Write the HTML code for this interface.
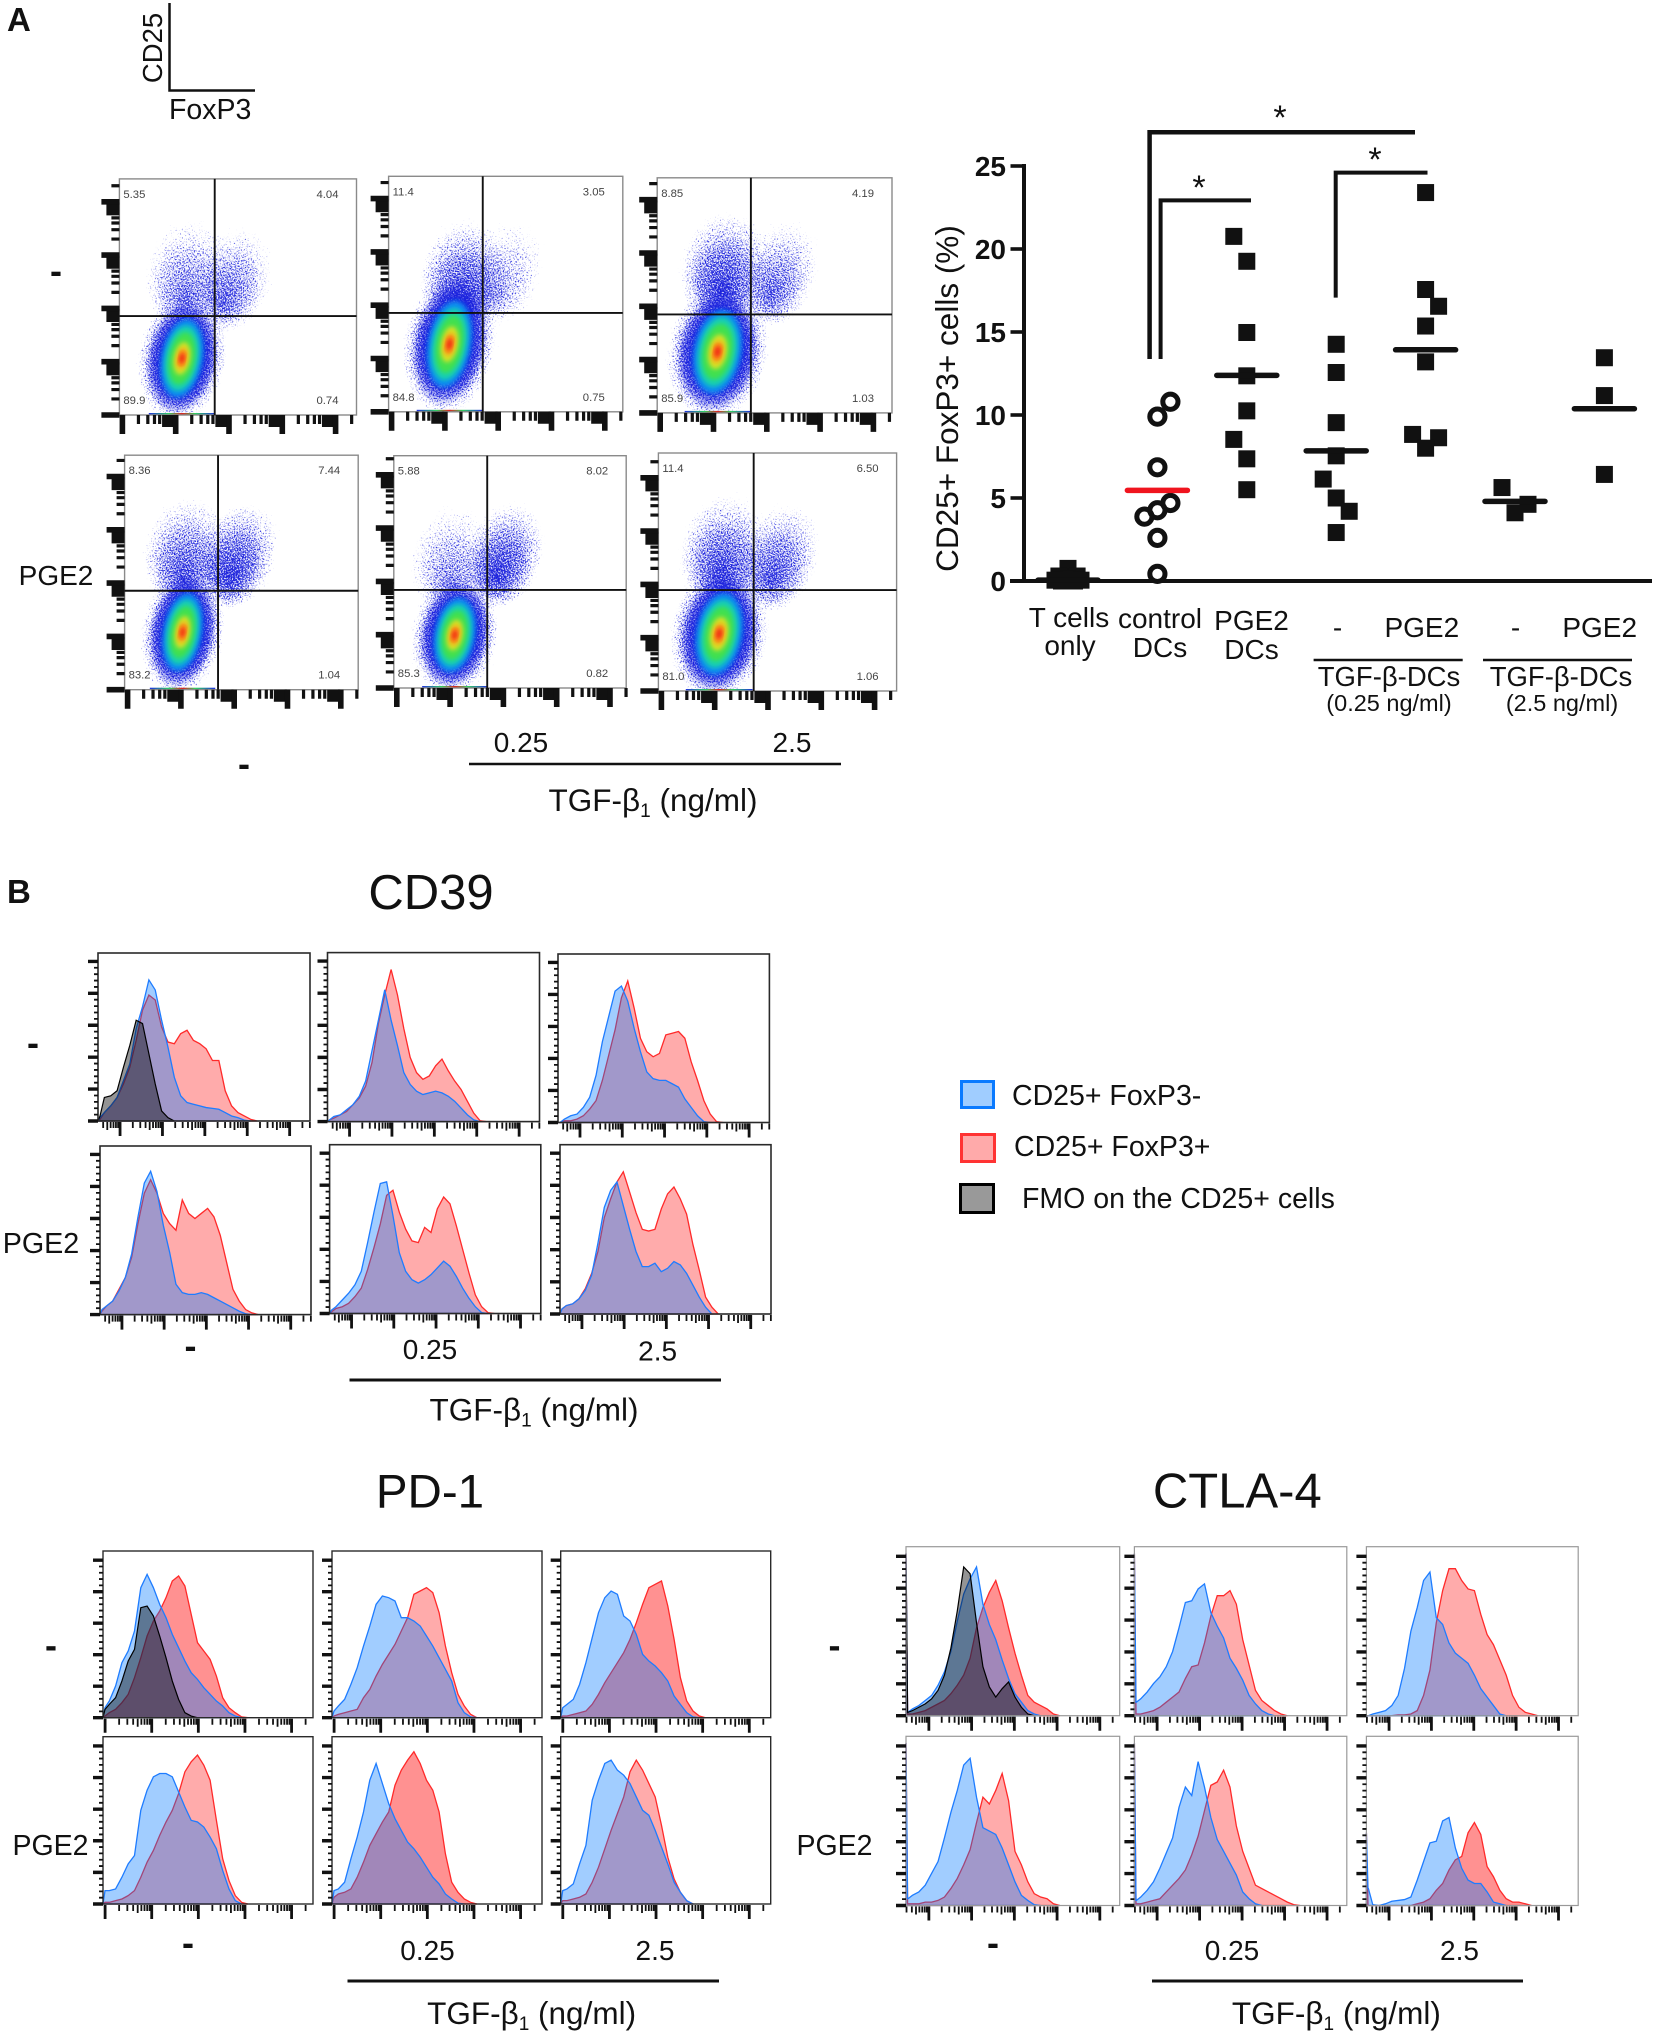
<!DOCTYPE html>
<html lang="en">
<head>
<meta charset="utf-8">
<title>TGF-beta DC flow cytometry figure</title>
<style>
html,body{margin:0;padding:0;background:#fff;}
svg{display:block;font-family:"Liberation Sans",sans-serif;fill:#111;}
.t28{font-size:28px;}
.m{text-anchor:middle;}
.dash{font-size:36px;font-weight:bold;text-anchor:middle;}
</style>
</head>
<body>
<svg id="figure" xmlns="http://www.w3.org/2000/svg" width="1654" height="2033" viewBox="0 0 1654 2033">
<defs>
  <radialGradient id="popFade" fx="0.5" fy="0.72">
    <stop offset="0" stop-color="#000" stop-opacity="0.7"/>
    <stop offset="0.5" stop-color="#000" stop-opacity="0.56"/>
    <stop offset="0.8" stop-color="#000" stop-opacity="0.4"/>
    <stop offset="1" stop-color="#000" stop-opacity="0.15"/>
  </radialGradient>
  <radialGradient id="haloFade">
    <stop offset="0" stop-color="#000" stop-opacity="0.9"/>
    <stop offset="0.6" stop-color="#000" stop-opacity="0.62"/>
    <stop offset="0.85" stop-color="#000" stop-opacity="0.38"/>
    <stop offset="1" stop-color="#000" stop-opacity="0.12"/>
  </radialGradient>
  <radialGradient id="coreFade">
    <stop offset="0" stop-color="#1822e0" stop-opacity="1"/>
    <stop offset="0.5" stop-color="#1822e0" stop-opacity="0.85"/>
    <stop offset="1" stop-color="#1822e0" stop-opacity="0"/>
  </radialGradient>
  <filter id="speckle" x="-5%" y="-5%" width="110%" height="110%" color-interpolation-filters="sRGB">
    <feTurbulence type="fractalNoise" baseFrequency="0.8" numOctaves="1" seed="7" result="noise"/>
    <feColorMatrix in="noise" type="matrix" values="0 0 0 0 0  0 0 0 0 0  0 0 0 0 0  1 0 0 0 0" result="noiseAlpha"/>
    <feComposite in="SourceAlpha" in2="noiseAlpha" operator="arithmetic" k1="0" k2="1" k3="1" k4="-1" result="sum"/>
    <feComponentTransfer in="sum" result="mask"><feFuncA type="linear" slope="6"/></feComponentTransfer>
    <feFlood flood-color="#1c22dc"/>
    <feComposite in2="mask" operator="in"/>
  </filter>
  <filter id="soft" x="-30%" y="-30%" width="160%" height="160%"><feGaussianBlur stdDeviation="2.4"/></filter>
  <linearGradient id="edgeRainbow">
    <stop offset="0" stop-color="#2030e0"/><stop offset="0.3" stop-color="#30d060"/>
    <stop offset="0.5" stop-color="#e02020"/><stop offset="0.7" stop-color="#30d060"/><stop offset="1" stop-color="#2030e0"/>
  </linearGradient>
</defs>
<rect x="0" y="0" width="1654" height="2033" fill="#fff"/>

<!-- Panel A annotations -->
<text x="7" y="31" font-size="33" font-weight="bold">A</text>
<text transform="translate(162,48) rotate(-90)" class="m" font-size="27.500">CD25</text>
<path d="M169.5 3V90.5H255" fill="none" stroke="#111" stroke-width="2.5"/>
<text x="169" y="119" font-size="28.500">FoxP3</text>
<text x="56" y="283" class="dash">-</text>
<text x="56" y="585" class="m t28">PGE2</text>
<text x="244" y="776" class="dash">-</text>
<text x="521" y="752" class="m t28">0.25</text>
<text x="792" y="752" class="m t28">2.5</text>
<line x1="469" y1="764" x2="841" y2="764" stroke="#111" stroke-width="2.5"/>
<text x="653" y="811" class="m" font-size="31.500">TGF-β<tspan font-size="19" dy="6">1</tspan><tspan dy="-6"> (ng/ml)</tspan></text>
<g id="flow-plots"></g>

<!-- Dot plot -->
<g id="dot-plot"></g>
<text transform="translate(958,398.5) rotate(-90)" class="m" font-size="31.500">CD25+ FoxP3+ cells (%)</text>
<path d="M1149.6 359V132.2H1415" fill="none" stroke="#111" stroke-width="4.5"/>
<path d="M1160.6 359V200.4H1251" fill="none" stroke="#111" stroke-width="4"/>
<path d="M1335.7 297.6V172.6H1427.5" fill="none" stroke="#111" stroke-width="4"/>
<text x="1280" y="129" class="m" font-size="34">*</text>
<text x="1199" y="199" class="m" font-size="34">*</text>
<text x="1375" y="171" class="m" font-size="34">*</text>
<text x="1069" y="627" class="m t28">T cells</text>
<text x="1070" y="655" class="m t28">only</text>
<text x="1160" y="628" class="m t28">control</text>
<text x="1160" y="657" class="m t28">DCs</text>
<text x="1251.5" y="630" class="m t28">PGE2</text>
<text x="1251.5" y="659" class="m t28">DCs</text>
<text x="1337.6" y="637" class="m t28">-</text>
<text x="1421.8" y="637" class="m t28">PGE2</text>
<text x="1515.6" y="637" class="m t28">-</text>
<text x="1599.7" y="637" class="m t28">PGE2</text>
<line x1="1313.6" y1="660" x2="1462.7" y2="660" stroke="#111" stroke-width="2.5"/>
<line x1="1483" y1="660" x2="1632" y2="660" stroke="#111" stroke-width="2.5"/>
<text x="1389" y="686" class="m" font-size="27.5">TGF-β-DCs</text>
<text x="1561" y="686" class="m" font-size="27.5">TGF-β-DCs</text>
<text x="1389" y="711" class="m" font-size="23.5">(0.25 ng/ml)</text>
<text x="1562" y="711" class="m" font-size="23.5">(2.5 ng/ml)</text>

<!-- Panel B annotations -->
<text x="7" y="903" font-size="33" font-weight="bold">B</text>
<text x="431" y="909" class="m" font-size="49">CD39</text>
<text x="33" y="1055" class="dash">-</text>
<text x="41" y="1253" class="m" font-size="28.7">PGE2</text>
<text x="190.500" y="1358" class="dash">-</text>
<text x="430" y="1359" class="m t28">0.25</text>
<text x="657.600" y="1360.500" class="m t28">2.5</text>
<line x1="349.500" y1="1380" x2="721" y2="1380" stroke="#111" stroke-width="3"/>
<text x="534" y="1420.500" class="m" font-size="31.500">TGF-β<tspan font-size="19" dy="6">1</tspan><tspan dy="-6"> (ng/ml)</tspan></text>

<text x="430" y="1507.500" class="m" font-size="47.500">PD-1</text>
<text x="51" y="1657.500" class="dash">-</text>
<text x="50.500" y="1855" class="m" font-size="28.5">PGE2</text>
<text x="188" y="1955" class="dash">-</text>
<text x="427.500" y="1960" class="m t28">0.25</text>
<text x="655" y="1960" class="m t28">2.5</text>
<line x1="347.500" y1="1981" x2="719" y2="1981" stroke="#111" stroke-width="3"/>
<text x="531.600" y="2024" class="m" font-size="31.500">TGF-β<tspan font-size="19" dy="6">1</tspan><tspan dy="-6"> (ng/ml)</tspan></text>

<text x="1237.300" y="1507.500" class="m" font-size="49">CTLA-4</text>
<text x="834.500" y="1657.500" class="dash">-</text>
<text x="834.500" y="1855" class="m" font-size="28.500">PGE2</text>
<text x="993" y="1955" class="dash">-</text>
<text x="1232" y="1960" class="m t28">0.25</text>
<text x="1459.500" y="1960" class="m t28">2.5</text>
<line x1="1152" y1="1981" x2="1523" y2="1981" stroke="#111" stroke-width="3"/>
<text x="1336.400" y="2024" class="m" font-size="31.500">TGF-β<tspan font-size="19" dy="6">1</tspan><tspan dy="-6"> (ng/ml)</tspan></text>

<g id="histograms"></g>

<!-- Legend -->
<g>
  <g>
    <rect x="961.500" y="1081.500" width="32" height="26" fill="#a0cdff" stroke="#0a7aff" stroke-width="3"/>
    <text x="1012" y="1105" font-size="28.500">CD25+ FoxP3-</text>
  </g>
  <g>
    <rect x="961.500" y="1134.500" width="33" height="27" fill="#ffaaaa" stroke="#ff3333" stroke-width="3"/>
    <text x="1014" y="1156" font-size="28.500">CD25+ FoxP3+</text>
  </g>
  <g>
    <rect x="960.500" y="1184.500" width="33" height="28" fill="#999" stroke="#000" stroke-width="3"/>
    <text x="1022" y="1208" font-size="28.500">FMO on the CD25+ cells</text>
  </g>
</g>

<script>
/* ---------- Dot plot data (CD25+ FoxP3+ cells, %) ---------- */
const dotCategories = ["T cells only", "control DCs", "PGE2 DCs", "TGF 0.25 -", "TGF 0.25 PGE2", "TGF 2.5 -", "TGF 2.5 PGE2"];
const dotYTicks = [0, 5, 10, 15, 20, 25];
const tCellsValues = [0.76, 0.3, 0.3, 0.1, 0.05, 0.05, 0, 0];
const tCellsSlots = [0, -0.7, 0.7, 0, -1, 1, -0.5, 0.5];
const controlValues = [10.8, 9.9, 6.85, 4.7, 4.26, 3.88, 2.6, 0.43];
const controlSlots = [1, 0, 0, 1, 0, -1, 0, 0];
const pge2Values = [20.76, 19.26, 14.97, 12.36, 10.25, 8.53, 7.36, 5.5];
const pge2Slots = [-1, 0, 0, 0, 0, -1, 0, 0];
const tgf025Values = [14.26, 12.56, 9.54, 7.54, 6.14, 5.0, 4.2, 2.92];
const tgf025Slots = [0, 0, 0, 0, -1, 0, 1, 0];
const tgf025Pge2Values = [23.4, 17.56, 16.55, 15.36, 13.2, 8.83, 8.63, 8.0];
const tgf025Pge2Slots = [0, 0, 1, 0, 0, -1, 1, 0];
const tgf25Values = [5.63, 4.62, 4.11];
const tgf25Slots = [-1, 1, 0];
const tgf25Pge2Values = [13.45, 11.17, 6.42];
const tgf25Pge2Slots = [0, 0, 0];
const dotMeans = [0.05, 5.46, 12.39, 7.84, 13.93, 4.8, 10.38];

/* ---------- Flow plot population estimates (% of each axis) ---------- */
const flowCoreX = [26.4, 26, 25.7, 24.8, 26.2, 25.5];
const flowCoreY = [24, 28.7, 26, 24.5, 22.8, 24];
const flowCoreSpreadX = [19, 20, 22, 18, 19, 21];
const flowCoreSpreadY = [28, 31, 30, 28, 27, 29];
const flowQ1X = [29.5, 32.6, 29, 27, 26, 28];
const flowQ1Y = [60, 58, 62, 59, 56, 59];
const flowQ1Density = [0.88, 1, 1, 0.95, 0.85, 0.98];
const flowQ2X = [48, 50, 52, 48.6, 48, 51];
const flowQ2Y = [58, 60, 60, 58, 58, 57];
const flowQ2Density = [0.9, 0.8, 0.9, 1, 1, 0.95];
const flowGateX = [40.2, 40.2, 39.9, 40, 40.2, 40];
const flowGateY = [41.9, 42, 41.9, 42.2, 42.2, 42.4];
const flowUpperLeft = ["5.35", "11.4", "8.85", "8.36", "5.88", "11.4"];
const flowUpperRight = ["4.04", "3.05", "4.19", "7.44", "8.02", "6.50"];
const flowLowerLeft = ["89.9", "84.8", "85.9", "83.2", "85.3", "81.0"];
const flowLowerRight = ["0.74", "0.75", "1.03", "1.04", "0.82", "1.06"];

/* ---------- Histogram values: % of panel height per fluorescence bin ---------- */
const cd39NoneNoneBlue = [2,5,9,14,24,34,55,68,84,78,60,44,26,15,11,10,9,8,7.5,7,5,3,2,0.5,0];
const cd39NoneNoneRed = [1,5,9,14,22,32,48,66,75,72,56,47,46,52,54,48,46,43,36,36,18,9,5,3,1,0];
const cd39NoneNoneBlack = [3,14,15,18,32,45,60,58,40,22,6,2,0];
const cd39None025Blue = [1,3,4,7,10,15,24,42,60,78,60,45,29,22,18,16,17,18,17,15,12,8,4,1,0];
const cd39None025Red = [1,2,4,6,10,14,21,35,58,75,90,75,55,38,29,25,27,33,37,30,24,19,12,5,0.5,0];
const cd39None25Blue = [0,2,4,5,9,15,28,48,63,78,81,72,56,42,30,26,25,25,23,21,14,9,4,0.5,0];
const cd39None25Red = [0,1,1,2,4,8,13,25,40,55,74,84,68,50,42,39,41,52,53,54,50,36,25,13,5,0.5,0];
const cd39Pge2NoneBlue = [3,5,8,14,22,36,58,78,85,73,53,37,18,13,12,12,13,12,10,8,6,4,2,0.5,0];
const cd39Pge2NoneRed = [2,5,8,15,22,34,54,72,80,72,60,54,50,68,60,57,60,63,58,47,31,15,8,3,1,0];
const cd39Pge2025Blue = [2,4,8,12,17,25,42,60,77,78,58,36,25,20,18,20,23,27,31,28,22,15,9,4,0.5,0];
const cd39Pge2025Red = [1,3,4,6,10,15,26,39,53,70,73,60,50,43,42,51,48,62,69,65,52,38,24,11,4,0.5,0];
const cd39Pge225Blue = [3,5,6,9,14,23,42,63,73,78,64,50,37,28,28,30,25,27,31,29,24,17,10,4,0];
const cd39Pge225Red = [3,5,6,9,15,24,37,57,68,78,84,72,60,50,49,50,62,71,75,68,59,41,26,10,4,0];

const pd1NoneNoneBlue = [6,10,19,33,40,52,78,86,78,68,60,50,42,34,27,23,18,14,10,7,3,1,0];
const pd1NoneNoneRed = [1,3,5,9,14,24,36,49,58,64,72,82,85,79,62,45,40,35,25,12,6,3,0.5,0];
const pd1NoneNoneBlack = [5,8,12,22,34,41,66,67,61,49,36,22,11,3,1,0];
const pd1None025Blue = [4,7,11,20,30,43,55,68,73,72,70,60,60,58,55,49,43,36,29,22,9,3,0.5,0];
const pd1None025Red = [1,2,3,4,5,12,17,25,32,38,44,52,60,74,76,78,75,63,43,27,14,7,2,0];
const pd1None25Blue = [6,8,11,20,33,48,63,72,76,74,61,58,50,38,34,31,27,22,13,8,3,0.5,0];
const pd1None25Red = [1,1,2,3,4,8,14,21,27,33,39,47,57,68,78,80,82,67,47,24,10,4,1,0];
const pd1Pge2NoneBlue = [8,8,9,16,24,29,56,68,76,78,78,76,67,58,50,49,46,40,33,20,9,2,0];
const pd1Pge2NoneRed = [1,1,2,3,5,8,16,25,32,41,49,56,66,79,85,89,83,74,50,27,14,5,1,0];
const pd1Pge2025Blue = [8,9,13,27,40,55,74,84,72,60,51,44,37,33,28,22,16,12,6,3,0.5,0];
const pd1Pge2025Red = [4,6,7,9,16,25,35,42,49,55,71,80,86,91,84,74,68,55,30,13,7,3,1,0];
const pd1Pge225Blue = [8,9,12,24,35,62,74,84,86,80,77,72,64,56,53,44,34,24,13,7,2,0];
const pd1Pge225Red = [2,2,3,4,6,13,22,33,44,54,64,79,86,80,72,64,47,28,15,7,2,0];

const ctlaNoneNoneBlue = [2,4,6,9,12,18,26,38,56,72,81,88,66,54,45,33,22,13,8,3,1,0];
const ctlaNoneNoneRed = [1,1,2,3,5,7,9,13,18,24,34,52,64,73,80,68,52,37,24,12,8,6,4,1,0];
const ctlaNoneNoneBlack = [2,3,5,7,10,15,24,40,62,88,84,55,29,17,11,16,20,11,5,1,0];
const ctlaNone025Blue = [8,10,14,19,23,29,38,52,67,68,75,78,61,53,46,34,28,21,12,7,3,1,0];
const ctlaNone025Red = [1,1,2,3,5,8,11,14,22,29,30,43,59,71,71,74,66,45,30,15,9,6,3,1,0];
const ctlaNone25Blue = [0,1,2,3,6,12,28,50,64,80,85,58,54,43,37,34,31,24,16,11,6,1,0];
const ctlaNone25Red = [0,0,0,0,0,0.5,0.5,1,3,12,27,55,74,87,87,80,75,74,60,48,42,33,24,12,5,2,1,0];
const ctlaPge2NoneBlue = [4,6,8,12,19,26,40,55,68,83,87,64,46,44,42,34,24,14,6,3,0.5,0];
const ctlaPge2NoneRed = [1,1,1,2,2,3,5,10,16,24,33,49,64,60,68,78,62,32,24,14,7,5,4,1,0];
const ctlaPge2025Blue = [3,5,9,14,22,31,40,58,70,65,85,70,52,39,32,25,18,8,4,1,0];
const ctlaPge2025Red = [1,1,2,3,4,8,12,16,21,30,41,56,71,73,80,70,47,32,22,12,10,8,6,4,2,0.5,0];
const ctlaPge225Blue = [10,0.5,0,1,2.5,3,3.5,5,15,26,37,38,50,52,34,22,15,13,13,8,2,1,0];
const ctlaPge225Red = [0,0,0,0,0,0,0,0,1,2,4,9,13,21,27,29,43,49,42,23,17,9,4,2,2,1,0];
const ctlaLowSpike = [96, 96, 0, 96, 96, 43];

/* ---------- Layout ---------- */
const NS = "http://www.w3.org/2000/svg";
const binStep = 0.03;
function make(tag, attrs, parent) {
  const el = document.createElementNS(NS, tag);
  for (const k in attrs) el.setAttribute(k, attrs[k]);
  parent.appendChild(el);
  return el;
}

/* ---------- Dot plot ---------- */
(function drawDots() {
  const root = document.getElementById("dot-plot");
  const catValues = [tCellsValues, controlValues, pge2Values, tgf025Values, tgf025Pge2Values, tgf25Values, tgf25Pge2Values];
  const catSlots = [tCellsSlots, controlSlots, pge2Slots, tgf025Slots, tgf025Pge2Slots, tgf25Slots, tgf25Pge2Slots];
  const yScale = v => 581 - v * 16.6;
  const xScale = i => 1068 + i * 89.4;
  const slotWidth = 13;

  const yAxis = make("line", {x1: 1024, y1: yScale(25) - 2, x2: 1024, y2: yScale(0) + 2, stroke: "#111", "stroke-width": 4}, root);
  
  
  const xAxis = make("line", {x1: 1010, y1: yScale(0), x2: 1652, y2: yScale(0), stroke: "#111", "stroke-width": 4}, root);
  
  

  dotYTicks.forEach(t => {
    const tick = make("line", {x1: 1010.5, y1: yScale(t), x2: 1024, y2: yScale(t), stroke: "#111", "stroke-width": 3.6}, root);
    
    
    const label = make("text", {x: 1006, y: yScale(t) + 10, "text-anchor": "end", "font-size": 28, "font-weight": "bold"}, root);
    
    
    label.textContent = t;
  });

  dotCategories.forEach((cat, i) => {
    const g = make("g", {}, root);
    
    
    catValues[i].forEach((v, j) => {
      const cx = xScale(i) + catSlots[i][j] * slotWidth;
      const cy = yScale(v);
      if (i === 1) {
        const c = make("circle", {cx: cx, cy: cy, r: 7.6, fill: "none", stroke: "#111", "stroke-width": 5}, g);
        
        
      } else {
        const s = make("rect", {x: cx - 8.5, y: cy - 8.5, width: 17, height: 17, fill: "#111"}, g);
        
        
      }
    });
    const mean = make("line", {x1: xScale(i) - 30, y1: yScale(dotMeans[i]), x2: xScale(i) + 30, y2: yScale(dotMeans[i]),
      stroke: i === 1 ? "#f0141e" : "#111", "stroke-width": 5.5, "stroke-linecap": "round"}, g);
    
    
  });
})();

/* ---------- Flow density plots ---------- */
(function drawFlow() {
  const root = document.getElementById("flow-plots");
  const frames = [
    [119.4, 178.9, 237.1, 236.1], [388.6, 176.3, 234.2, 235.5], [657.2, 177.8, 234.8, 235.1],
    [124.6, 455.2, 233.6, 234.5], [393.8, 455.7, 232.4, 232.3], [658.4, 453, 238.2, 238]
  ];
  const coreLevels = [
    [0.46, 0.6, "#0c8cf0"], [0.37, 0.5, "#18d0b0"], [0.29, 0.4, "#40e050"],
    [0.18, 0.25, "#d8e028"], [0.11, 0.15, "#ff8c14"], [0.06, 0.08, "#ee2414"]
  ];
  frames.forEach((f, i) => {
    const x = f[0], y = f[1], w = f[2], h = f[3];
    const px = v => x + w * v / 100;
    const py = v => y + h - h * v / 100;
    const g = make("g", {}, root);
    
    
    const clipId = "flowClip" + i;
    const clip = make("clipPath", {id: clipId}, g);
    make("rect", {x: x, y: y, width: w, height: h}, clip);
    const body = make("g", {"clip-path": "url(#" + clipId + ")"}, g);

    const q1 = make("ellipse", {cx: px(flowQ1X[i]), cy: py(flowQ1Y[i]), rx: w * 0.21, ry: h * 0.27, fill: "url(#popFade)",
      "fill-opacity": flowQ1Density[i], filter: "url(#speckle)", transform: "rotate(8 " + px(flowQ1X[i]) + " " + py(flowQ1Y[i]) + ")"}, body);
    
    
    const q2 = make("ellipse", {cx: px(flowQ2X[i]), cy: py(flowQ2Y[i]), rx: w * 0.18, ry: h * 0.26, fill: "url(#popFade)",
      "fill-opacity": flowQ2Density[i], filter: "url(#speckle)", transform: "rotate(20 " + px(flowQ2X[i]) + " " + py(flowQ2Y[i]) + ")"}, body);
    
    

    const cx = px(flowCoreX[i]), cy = py(flowCoreY[i]);
    const rot = "rotate(10 " + cx + " " + cy + ")";
    const sx = w * flowCoreSpreadX[i] / 100, sy = h * flowCoreSpreadY[i] / 100;
    const halo = make("ellipse", {cx: cx, cy: cy, rx: sx * 1.08, ry: sy * 1.08,
      fill: "url(#haloFade)", filter: "url(#speckle)", transform: rot}, body);
    
    
    const dense = make("ellipse", {cx: cx, cy: cy, rx: sx * 0.76, ry: sy * 0.86, fill: "url(#coreFade)", transform: rot}, body);
    
    
    coreLevels.forEach(level => {
      const e = make("ellipse", {cx: cx, cy: cy, rx: sx * level[0], ry: sy * level[1],
        fill: level[2], filter: "url(#soft)", transform: rot}, body);
      
      
    });
    const edge = make("rect", {x: cx - w * 0.14, y: y + h - 2, width: w * 0.28, height: 2, fill: "url(#edgeRainbow)"}, body);
    
    

    const border = make("rect", {x: x, y: y, width: w, height: h, fill: "none", stroke: "#8a8a8a", "stroke-width": 1.4}, g);
    
    
    const gate = make("path", {d: "M" + px(flowGateX[i]) + " " + y + "V" + (y + h) + "M" + x + " " + py(flowGateY[i]) + "H" + (x + w),
      fill: "none", stroke: "#111", "stroke-width": 1.9}, g);
    
    

    const labelTexts = [flowUpperLeft[i], flowUpperRight[i], flowLowerLeft[i], flowLowerRight[i]];
    const labelX = [x + 4, x + w - 18, x + 4, x + w - 18];
    const labelY = [y + 19, y + 19, y + h - 11, y + h - 11];
    const anchors = ["start", "end", "start", "end"];
    labelTexts.forEach((t, k) => {
      const label = make("text", {x: labelX[k], y: labelY[k], "font-size": 11.3, fill: "#444", "text-anchor": anchors[k]}, g);
      
      
      label.textContent = t;
    });

    const step = 53.3;
    let thin = "", mid = "", major = "";
    for (let d = 0; d < 5; d++) {
      const my = y + h - d * step;
      if (my > y) major += "M" + (x - 18) + " " + my + "H" + x;
      const mx = x + 3 + d * step;
      if (mx < x + w) major += "M" + mx + " " + (y + h) + "v19";
      for (let k = 2; k < 10; k++) {
        const off = step * Math.log10(k);
        const ty = my - off, tx = mx + off;
        const isMid = k >= 6;
        if (ty > y) { if (isMid) mid += "M" + (x - 13) + " " + ty + "H" + x; else thin += "M" + (x - 8) + " " + ty + "H" + x; }
        if (tx < x + w) { if (isMid) mid += "M" + tx + " " + (y + h) + "v12"; else thin += "M" + tx + " " + (y + h) + "v9"; }
      }
    }
    const t1 = make("path", {d: thin, stroke: "#111", "stroke-width": 3.2, fill: "none"}, g);
    
    
    const t2 = make("path", {d: mid, stroke: "#111", "stroke-width": 3.6, fill: "none"}, g);
    
    
    const t3 = make("path", {d: major, stroke: "#111", "stroke-width": 5.6, fill: "none"}, g);
    
    
  });
})();

/* ---------- Histograms ---------- */
(function drawHistograms() {
  const root = document.getElementById("histograms");
  const sets = [
    {first: 0.104, step: 0.2, yStep: 19, border: "#2a2a2a", bw: 1.6, spikes: null, panels: [
      [[98, 953, 212, 168], cd39NoneNoneBlue, cd39NoneNoneRed, cd39NoneNoneBlack, 0.33],
      [[327.5, 952.6, 212, 169], cd39None025Blue, cd39None025Red, null, 0.33],
      [[558, 954, 211.4, 168.5], cd39None25Blue, cd39None25Red, null, 0.33],
      [[100, 1146, 211, 168.6], cd39Pge2NoneBlue, cd39Pge2NoneRed, null, 0.33],
      [[329.6, 1144.7, 211.2, 168.8], cd39Pge2025Blue, cd39Pge2025Red, null, 0.33],
      [[560, 1144.7, 211, 169.3], cd39Pge225Blue, cd39Pge225Red, null, 0.33]
    ]},
    {first: 0.01, step: 0.222, yStep: 18.9, border: "#2a2a2a", bw: 1.4, spikes: null, panels: [
      [[103, 1551, 210, 166.7], pd1NoneNoneBlue, pd1NoneNoneRed, pd1NoneNoneBlack, 0.43],
      [[332, 1551, 210, 166.7], pd1None025Blue, pd1None025Red, null, 0.33],
      [[560.7, 1551, 210, 166.7], pd1None25Blue, pd1None25Red, null, 0.43],
      [[103, 1736.7, 210, 167.3], pd1Pge2NoneBlue, pd1Pge2NoneRed, null, 0.33],
      [[332, 1736.7, 210, 167.3], pd1Pge2025Blue, pd1Pge2025Red, null, 0.43],
      [[560.7, 1736.7, 210, 167.3], pd1Pge225Blue, pd1Pge225Red, null, 0.33]
    ]},
    {first: 0.107, step: 0.2, yStep: 18.86, border: "#999", bw: 1.2, spikes: ctlaLowSpike, panels: [
      [[906, 1546.7, 213.7, 169], ctlaNoneNoneBlue, ctlaNoneNoneRed, ctlaNoneNoneBlack, 0.43],
      [[1134.4, 1546.7, 212.4, 169], ctlaNone025Blue, ctlaNone025Red, null, 0.33],
      [[1366.4, 1546.7, 211.8, 169], ctlaNone25Blue, ctlaNone25Red, null, 0.33],
      [[906, 1736.3, 213.7, 169.2], ctlaPge2NoneBlue, ctlaPge2NoneRed, null, 0.33],
      [[1134.4, 1736.3, 212.4, 169.2], ctlaPge2025Blue, ctlaPge2025Red, null, 0.33],
      [[1366.4, 1736.3, 211.8, 169.2], ctlaPge225Blue, ctlaPge225Red, null, 0.43]
    ]}
  ];

  sets.forEach(set => {
    set.panels.forEach((p, pi) => {
      const f = p[0], x = f[0], y = f[1], w = f[2], h = f[3];
      const xs = bin => x + w * bin * binStep;
      const ys = v => y + h - h * v / 100;
      const spike = set.spikes ? set.spikes[pi] : 0;
      const curve = values => {
        let d = "M" + x + " " + (y + h);
        if (spike > 0) d += "L" + x + " " + ys(spike) + "L" + (x + 1.6) + " " + ys(values[0]);
        values.forEach((v, b) => { d += "L" + (xs(b) + (b === 0 ? 2 : 0)) + " " + ys(v); });
        return d + "L" + xs(values.length - 1) + " " + (y + h) + "Z";
      };
      const g = make("g", {}, root);
      
      

      const red = make("path", {d: curve(p[2]), fill: "#ff0000", "fill-opacity": p[4], stroke: "#ff2a2a", "stroke-width": 1.3}, g);
      
      
      const blue = make("path", {d: curve(p[1]), fill: "#0078ff", "fill-opacity": 0.37, stroke: "#1e7cff", "stroke-width": 1.3}, g);
      
      
      if (p[3]) {
        const black = make("path", {d: curve(p[3]), fill: "#000", "fill-opacity": 0.42, stroke: "#000", "stroke-width": 1.2}, g);
        
        
      }

      const border = make("rect", {x: x, y: y, width: w, height: h, fill: "none", stroke: set.border, "stroke-width": set.bw}, g);
      
      

      let majorLeft = "", minorLeft = "", majorBottom = "", minorBottom = "";
      for (let m = 0; m < 6; m++) {
        majorLeft += "M" + (x - 10) + " " + ys(m * set.yStep) + "H" + x;
        if (m < 5) for (let n = 1; n < 5; n++) minorLeft += "M" + (x - 4) + " " + ys((m + n / 5) * set.yStep) + "H" + x;
      }
      for (let d = -1; d < 6; d++) {
        const m = set.first + d * set.step;
        if (m >= 0 && m <= 1) majorBottom += "M" + (x + w * m) + " " + (y + h + 1) + "v14";
        for (let k = 2; k < 10; k++) {
          const t = m + set.step * Math.log10(k);
          if (t >= 0 && t <= 1) minorBottom += "M" + (x + w * t) + " " + (y + h + 1) + "v" + (k === 5 ? 8 : 6);
        }
      }
      const a = make("path", {d: majorLeft, stroke: "#111", "stroke-width": 3.4, fill: "none"}, g);
      
      
      const b = make("path", {d: minorLeft, stroke: "#111", "stroke-width": 1.8, fill: "none"}, g);
      
      
      const c = make("path", {d: majorBottom, stroke: "#111", "stroke-width": 2.8, fill: "none"}, g);
      
      
      const e = make("path", {d: minorBottom, stroke: "#111", "stroke-width": 1.8, fill: "none"}, g);
      
      
    });
  });
})();
</script>
</svg>
</body>
</html>
